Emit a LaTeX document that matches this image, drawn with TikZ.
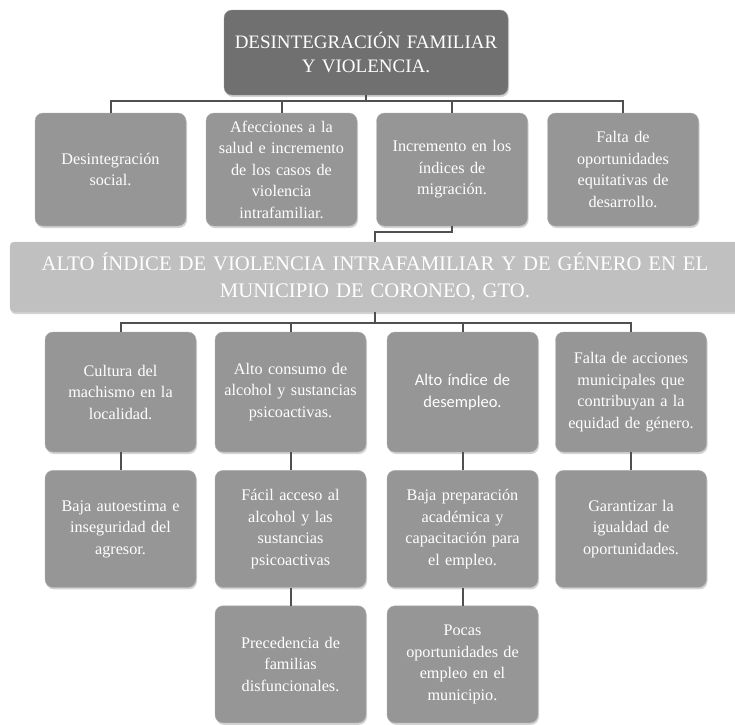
\documentclass[tikz,border=0pt]{standalone}
\usepackage{fontspec}
\setmainfont{Liberation Serif}
\newfontfamily\sansbody{Carlito}
\usetikzlibrary{positioning, shadows}
\definecolor{cellgray}{RGB}{150,150,150}
\definecolor{bandgray}{RGB}{192,192,192}
\definecolor{headgray}{RGB}{112,112,112}
\definecolor{linkgray}{RGB}{80,80,80}

\tikzset{
    cellbox/.style={fill=cellgray, draw=cellgray!75!white, rounded corners=8pt,
        text=white, align=center, text width=146pt, minimum width=151pt,
        inner sep=0pt, font=\fontsize{16.2}{21.5}\selectfont,
        drop shadow={opacity=0.35, shadow xshift=1pt, shadow yshift=-2pt}},
    headbox/.style={cellbox, fill=headgray, draw=headgray!75!white,
        text width=278pt, minimum width=284pt, minimum height=85pt,
        font=\fontsize{19}{24}\selectfont},
    bandbox/.style={cellbox, fill=bandgray, draw=bandgray!80!white,
        rounded corners=4pt, text width=720pt, minimum width=730pt,
        minimum height=70pt, font=\fontsize{20.7}{27}\selectfont},
    link/.style={draw=linkgray, line width=2pt}
}

\begin{document}
\begin{tikzpicture}[x=1pt, y=-1pt]
    \useasboundingbox (0, 0) rectangle (735, 724);

    % head
    \node[headbox] (head) at (366, 52.5)
        {DESINTEGRACIÓN FAMILIAR\\Y VIOLENCIA.};

    % effects
    \node[cellbox, minimum height=113pt] (fx1) at (110.5, 169.5)
        {Desintegración\\social.};
    \node[cellbox, minimum height=113pt] (fx2) at (281.5, 169.5)
        {Afecciones a la\\salud e incremento\\de los casos de\\violencia\\intrafamiliar.};
    \node[cellbox, minimum height=113pt] (fx3) at (452, 169.5)
        {Incremento en los\\índices de\\migración.};
    \node[cellbox, minimum height=113pt] (fx4) at (623, 169.5)
        {Falta de\\oportunidades\\equitativas de\\desarrollo.};

    % central problem
    \node[bandbox] (band) at (375, 277)
        {ALTO ÍNDICE DE VIOLENCIA INTRAFAMILIAR Y DE GÉNERO EN EL\\MUNICIPIO DE CORONEO, GTO.};

    % causes
    \node[cellbox, minimum height=120pt] (ca1) at (120.5, 392)
        {Cultura del\\machismo en la\\localidad.};
    \node[cellbox, minimum height=120pt] (ca2) at (290.5, 392)
        {Alto consumo de\\alcohol y sustancias\\psicoactivas.};
    \node[cellbox, minimum height=120pt, font=\sansbody\fontsize{16.5}{21.5}\selectfont]
        (ca3) at (462.5, 392) {Alto índice de\\desempleo.};
    \node[cellbox, minimum height=120pt] (ca4) at (631, 392)
        {Falta de acciones\\municipales que\\contribuyan a la\\equidad de género.};

    \node[cellbox, minimum height=117pt, below=18pt of ca1] (cb1)
        {Baja autoestima e\\inseguridad del\\agresor.};
    \node[cellbox, minimum height=117pt, below=18pt of ca2] (cb2)
        {Fácil acceso al\\alcohol y las\\sustancias\\psicoactivas};
    \node[cellbox, minimum height=117pt, below=18pt of ca3] (cb3)
        {Baja preparación\\académica y\\capacitación para\\el empleo.};
    \node[cellbox, minimum height=117pt, below=18pt of ca4] (cb4)
        {Garantizar la\\igualdad de\\oportunidades.};

    \node[cellbox, minimum height=117pt, below=18pt of cb2] (cc2)
        {Precedencia de\\familias\\disfuncionales.};
    \node[cellbox, minimum height=117pt, below=18pt of cb3] (cc3)
        {Pocas\\oportunidades de\\empleo en el\\municipio.};

    % connectors
    \draw[link] (head.south) -- ++(0, 6) coordinate (bus1);
    \foreach \n in {fx1, fx2, fx3, fx4}
        \draw[link] (bus1) -| (\n.north);
    \draw[link] (fx3.south) -- ++(0, 6) -| (band.north);
    \draw[link] (band.south) -- ++(0, 11) coordinate (bus2);
    \foreach \n in {ca1, ca2, ca3, ca4}
        \draw[link] (bus2) -| (\n.north);
    \foreach \n in {1, 2, 3, 4}
        \draw[link] (ca\n.south) -- (cb\n.north);
    \draw[link] (cb2.south) -- (cc2.north);
    \draw[link] (cb3.south) -- (cc3.north);
\end{tikzpicture}
\end{document}
